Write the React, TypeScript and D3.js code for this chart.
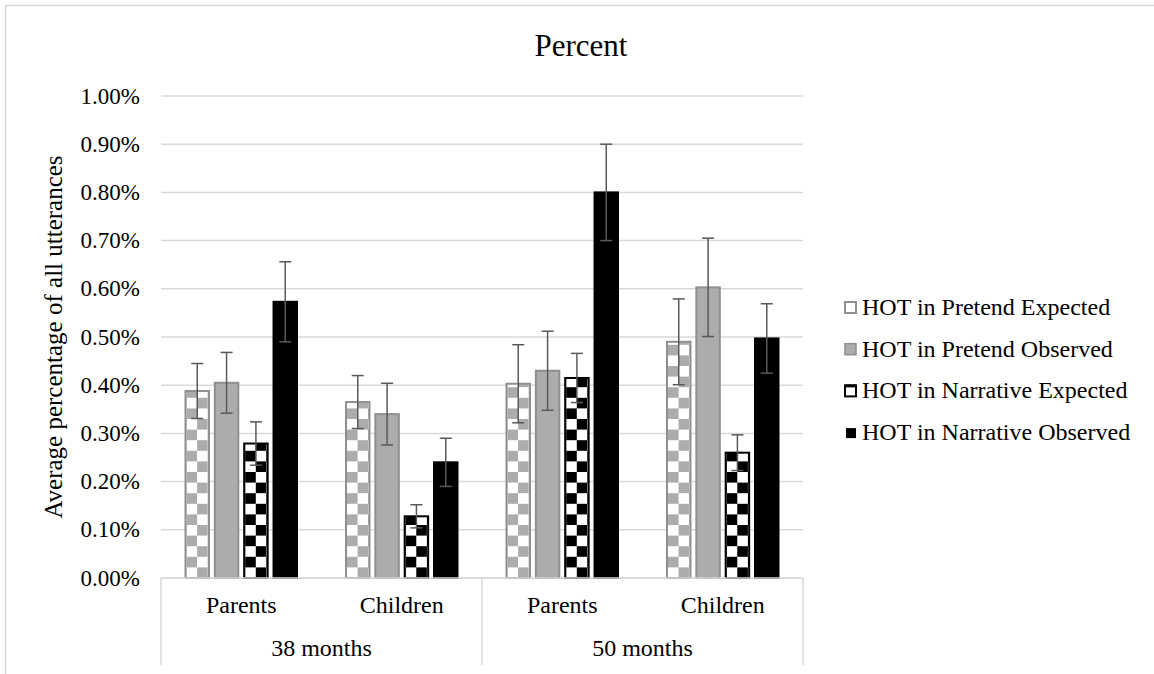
import React from 'react';
import * as d3 from 'd3';

// values are in percent (0.57 = 0.57%)
const categories = ['Parents', 'Children', 'Parents', 'Children'];
const groups = ['38 months', '50 months'];
const seriesNames = [
	'HOT in Pretend Expected',
	'HOT in Pretend Observed',
	'HOT in Narrative Expected',
	'HOT in Narrative Observed',
];
const pretendExpected = [0.388, 0.365, 0.403, 0.49];
const pretendObserved = [0.405, 0.34, 0.43, 0.603];
const narrativeExpected = [0.279, 0.128, 0.415, 0.26];
const narrativeObserved = [0.573, 0.24, 0.8, 0.497];
const pretendExpectedErr = [0.057, 0.055, 0.081, 0.089];
const pretendObservedErr = [0.063, 0.064, 0.082, 0.102];
const narrativeExpectedErr = [0.045, 0.024, 0.051, 0.037];
const narrativeObservedErr = [0.083, 0.05, 0.1, 0.072];
const yTicks = [0, 0.1, 0.2, 0.3, 0.4, 0.5, 0.6, 0.7, 0.8, 0.9, 1.0];

const W = 1154;
const H = 674;
const FONT = 'Liberation Serif, serif';
const GRID = '#d9d9d9';
const GRAY = '#aeabab';

const values = [pretendExpected, pretendObserved, narrativeExpected, narrativeObserved];
const errors = [pretendExpectedErr, pretendObservedErr, narrativeExpectedErr, narrativeObservedErr];

// fill / stroke per series
const styles = [
	{ kind: 'checker', a: GRAY, stroke: '#8f8f8f' },
	{ kind: 'solid', a: GRAY, stroke: '#8f8f8f' },
	{ kind: 'checker', a: '#000', stroke: '#000' },
	{ kind: 'solid', a: '#000', stroke: '#000' },
];

export default function App() {
	const left = 161, right = 803, top = 96, bottom = 578;
	const y = d3.scaleLinear().domain([0, 1]).range([bottom, top]);
	const keys = categories.map((c, i) => `${i}`);
	const x0 = d3.scaleBand().domain(keys).range([left, right]);
	const x1 = d3.scaleBand().domain(seriesNames).range([24.5, 136]).paddingInner(0.2);
	const fmt = (v: number) => d3.format('.2f')(v) + '%';
	const cell = 10.6;
	const txt = { fontFamily: FONT, fill: '#000' };

	const bars: any[] = [];
	keys.forEach((k, ci) => {
		seriesNames.forEach((s, si) => {
			const v = values[si][ci];
			const e = errors[si][ci];
			const bx = (x0(k) as number) + (x1(s) as number);
			bars.push({ id: `p${ci}_${si}`, ci, si, bx, bw: x1.bandwidth(), v, e });
		});
	});

	const groupX = d3.scaleBand().domain(groups).range([left, right]);

	return (
		<div style={{ position: 'absolute', left: 0, top: 0 }}>
			<svg width={W} height={H} style={{ display: 'block', background: '#fff', fontFamily: FONT }}>
				<defs>
					{bars.filter(b => styles[b.si].kind === 'checker').map(b => (
						<pattern key={b.id} id={b.id} patternUnits="userSpaceOnUse"
							x={b.bx + 1} y={bottom} width={cell * 2} height={cell * 2}>
							<rect width={cell * 2} height={cell * 2} fill="#fff" />
							<rect x={0} y={0} width={cell} height={cell} fill={styles[b.si].a} />
							<rect x={cell} y={cell} width={cell} height={cell} fill={styles[b.si].a} />
						</pattern>
					))}
				</defs>
				<rect x={5.5} y={5.5} width={W + 10} height={H + 10} fill="none" stroke={GRID} strokeWidth={1.5} />

				<text x={581} y={56} textAnchor="middle" style={{ ...txt, fontSize: 31 }}>Percent</text>

				{yTicks.map(t => (
					<g key={t}>
						<line x1={left} x2={right} y1={y(t)} y2={y(t)} stroke={GRID} strokeWidth={1.5} />
						<text x={140} y={y(t)} dy="0.33em" textAnchor="end" style={{ ...txt, fontSize: 23 }}>{fmt(t)}</text>
					</g>
				))}

				<text transform={`translate(62,${(top + bottom) / 2}) rotate(-90)`} textAnchor="middle"
					style={{ ...txt, fontSize: 25 }}>Average percentage of all utterances</text>

				{bars.map(b => {
					const st = styles[b.si];
					const yt = y(b.v);
					return (
						<rect key={b.id} x={b.bx} y={yt} width={b.bw} height={bottom - yt}
							fill={st.kind === 'checker' ? `url(#${b.id})` : st.a}
							stroke={st.stroke} strokeWidth={2} />
					);
				})}

				{bars.map(b => {
					const cx = b.bx + b.bw / 2;
					const hi = y(b.v + b.e), lo = y(b.v - b.e);
					return (
						<g key={'e' + b.id} stroke="#595959" strokeWidth={1.5}>
							<line x1={cx} x2={cx} y1={hi} y2={lo} />
							<line x1={cx - 6} x2={cx + 6} y1={hi} y2={hi} />
							<line x1={cx - 6} x2={cx + 6} y1={lo} y2={lo} />
						</g>
					);
				})}

				{/* category axis */}
				<line x1={left} x2={right} y1={bottom} y2={bottom} stroke={GRID} strokeWidth={1.5} />
				{[left, (left + right) / 2, right].map(xx => (
					<line key={xx} x1={xx} x2={xx} y1={bottom} y2={665} stroke={GRID} strokeWidth={1.5} />
				))}
				{keys.map((k, i) => (
					<text key={k} x={(x0(k) as number) + x0.bandwidth() / 2} y={613} textAnchor="middle"
						style={{ ...txt, fontSize: 24 }}>{categories[i]}</text>
				))}
				{groups.map(g => (
					<text key={g} x={(groupX(g) as number) + groupX.bandwidth() / 2} y={656} textAnchor="middle"
						style={{ ...txt, fontSize: 24 }}>{g}</text>
				))}

				{/* legend */}
				{seriesNames.map((s, i) => {
					const ly = 307 + i * 41.7;
					let marker;
					if (i === 0) marker = <rect x={845} y={ly - 5} width={11} height={11} fill="#fff" stroke="#8f8f8f" strokeWidth={2} />;
					else if (i === 1) marker = <rect x={845} y={ly - 5} width={11} height={11} fill={GRAY} stroke="#8f8f8f" strokeWidth={1.5} />;
					else if (i === 2) marker = (
						<g>
							<rect x={845} y={ly - 5} width={11} height={11} fill="#fff" stroke="#000" strokeWidth={2} />
							<rect x={845} y={ly - 6} width={11} height={3} fill="#000" />
						</g>
					);
					else marker = <rect x={846} y={ly - 4} width={10} height={10} fill="#000" />;
					return (
						<g key={s}>
							{marker}
							<text x={862} y={ly} dy="0.33em" style={{ ...txt, fontSize: 24 }}>{s}</text>
						</g>
					);
				})}
			</svg>
		</div>
	);
}
